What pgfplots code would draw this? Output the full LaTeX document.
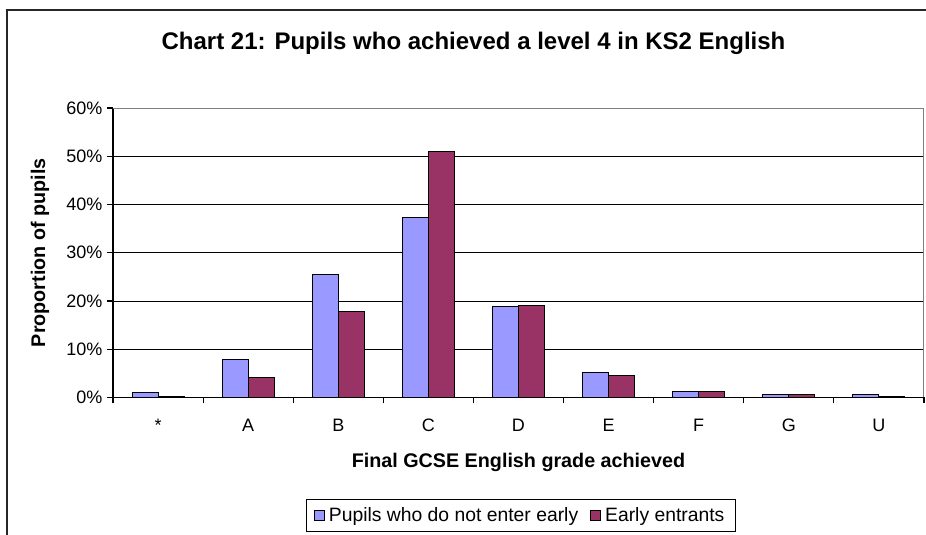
\documentclass[border=0pt]{standalone}
\usepackage{pgfplots}
\pgfplotsset{compat=1.18}
\usepackage{fontspec}
\setmainfont{Liberation Sans}
\definecolor{barblue}{HTML}{9999FF}
\definecolor{barred}{HTML}{993366}
\begin{document}
\begin{tikzpicture}[x=0.75pt,y=0.75pt]
\useasboundingbox (0,0) rectangle (926,535);
\draw[line width=1.1pt, black!85] (7,-2) -- (7,525) -- (928,525);
\begin{axis}[
  at={(84.75pt,103.125pt)}, anchor=south west,
  scale only axis, width=608.25pt, height=217.125pt,
  xmin=-0.5, xmax=8.5, ymin=0, ymax=60,
  axis x line*=bottom, axis y line*=left,
  axis line style={black, line width=0.8pt},
  xtick={0,...,8},
  xticklabels={*,A,B,C,D,E,F,G,U},
  major x tick style={draw=none},
  minor xtick={-0.5,0.5,...,8.5},
  minor x tick style={black, line width=0.8pt},
  ytick={0,10,...,60},
  yticklabel={\pgfmathprintnumber{\tick}\%},
  /pgf/number format/assume math mode=true,
  major y tick style={black, line width=0.8pt},
  tick align=outside,
  major tick length=4.5pt, minor tick length=4.5pt,
  ymajorgrids, grid style={black, line width=0.7pt},
  tick label style={font=\fontsize{13.5}{15}\selectfont},
  xticklabel style={yshift=-8pt},
  ybar=0pt, bar width=19.5pt,
  xlabel={Final GCSE English grade achieved},
  ylabel={Proportion of pupils},
  xlabel style={font=\bfseries\fontsize{14.8}{16}\selectfont, at={(axis description cs:0.5,-0.226)}, anchor=center},
  ylabel style={font=\bfseries\fontsize{14.8}{16}\selectfont, at={(axis description cs:-0.09,0.5)}, anchor=center},
  legend columns=2,
  legend style={at={(axis description cs:0.5025,-0.406)}, anchor=center, draw=black, line width=0.6pt,
    font=\fontsize{14.5}{16}\selectfont, inner xsep=6pt, inner ysep=4pt,
    /tikz/every even column/.append style={column sep=7pt},
    /tikz/every odd column/.append style={column sep=1pt}},
  legend image code/.code={\draw[#1, line width=0.6pt] (0pt,-3.8pt) rectangle (7.6pt,3.8pt);},
]
\addplot[fill=barblue, draw=black, line width=0.7pt] coordinates {(0,1.1) (1,7.9) (2,25.5) (3,37.4) (4,18.8) (5,5.2) (6,1.2) (7,0.6) (8,0.6)};
\addplot[fill=barred, draw=black, line width=0.7pt] coordinates {(0,0.3) (1,4.1) (2,17.9) (3,51.0) (4,19.1) (5,4.6) (6,1.2) (7,0.6) (8,0.3)};
\legend{Pupils who do not enter early, Early entrants}
\draw[gray, line width=0.8pt] (axis description cs:0,1) -- (axis description cs:1,1) -- (axis description cs:1,0);
\end{axis}
\node[font=\bfseries\fontsize{18}{21}\selectfont] at (473.5,492) {Chart 21: Pupils who achieved a level 4 in KS2 English};
\end{tikzpicture}
\end{document}
